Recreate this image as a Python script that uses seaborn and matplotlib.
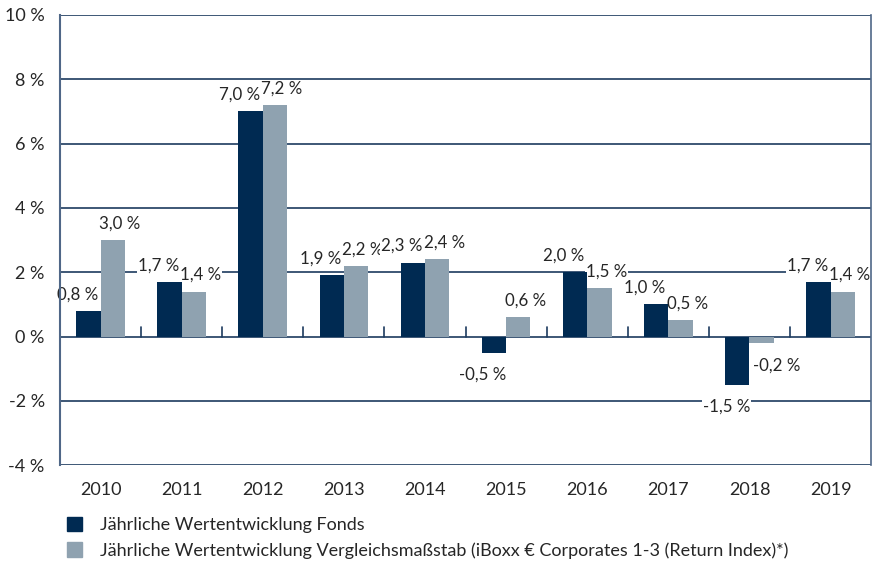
import pandas as pd
import numpy as np
import matplotlib.pyplot as plt
from matplotlib.patches import Patch
import seaborn as sns

years = ['2010', '2011', '2012', '2013', '2014', '2015', '2016', '2017', '2018', '2019']
fonds = [0.8, 1.7, 7.0, 1.9, 2.3, -0.5, 2.0, 1.0, -1.5, 1.7]
index = [3.0, 1.4, 7.2, 2.2, 2.4, 0.6, 1.5, 0.5, -0.2, 1.4]
series = ['Jährliche Wertentwicklung Fonds',
          'Jährliche Wertentwicklung Vergleichsmaßstab (iBoxx € Corporates 1-3 (Return Index)*)']
yticks = [-4, -2, 0, 2, 4, 6, 8, 10]

dark = '#002a52'
light = '#8fa2b0'
grid = '#1d3b5f'
text = '#262626'

df = pd.DataFrame({
    'year': years * 2,
    'value': fonds + index,
    'series': [series[0]] * len(years) + [series[1]] * len(years),
})

sns.set_style('white')
plt.rcParams['font.family'] = ['Lato', 'DejaVu Sans']

fig = plt.figure(figsize=(8.75, 5.68), dpi=100)
ax = fig.add_axes([0.0686, 0.181, 0.927, 0.7926])

sns.barplot(data=df, x='year', y='value', hue='series', palette=[dark, light],
            width=0.6, saturation=1, legend=False, linewidth=0, ax=ax, zorder=3)

ax.set_ylim(-4, 10)
ax.set_xlim(-0.5, len(years) - 0.5)
ax.set_yticks(yticks)
ax.set_yticklabels([f'{t} %' for t in yticks])
ax.set_xlabel('')
ax.set_ylabel('')
ax.tick_params(axis='both', length=0, labelsize=13, colors=text)
ax.tick_params(axis='x', pad=12)
ax.tick_params(axis='y', pad=11)

for t in yticks:
    ax.axhline(t, color=grid, lw=1.2, zorder=1)
for i in range(len(years)):
    ax.plot([i - 0.5, i - 0.5], [0, 0.3], color=grid, lw=1.2, zorder=1)

for s in ['top', 'bottom']:
    ax.spines[s].set_visible(False)
ax.spines['left'].set_color('#4f6787')
ax.spines['left'].set_linewidth(1.5)
ax.spines['right'].set_color('#4f6787')
ax.spines['right'].set_linewidth(1.2)

box = dict(boxstyle='square,pad=0.05', fc='white', ec='none')
for i, (a, b) in enumerate(zip(fonds, index)):
    for v, dx, xoff in [(a, -0.15, -8), (b, 0.15, 5 if b >= 0 else 11)]:
        lab = f'{v:.1f} %'.replace('.', ',')
        yoff = 12 if v >= 0 else -16
        ax.annotate(lab, (i + dx, v), xytext=(xoff, yoff), textcoords='offset points',
                    ha='center', va='center', fontsize=12.2, color=text,
                    bbox=box, zorder=2)

handles = [Patch(color=dark), Patch(color=light)]
fig.legend(handles, series, loc='lower left', bbox_to_anchor=(0.058, -0.012),
           frameon=False, fontsize=13, handlelength=0.85, handleheight=0.85,
           handletextpad=1.0, labelspacing=0.5, labelcolor=text)

fig.savefig('out.png', dpi=100)
